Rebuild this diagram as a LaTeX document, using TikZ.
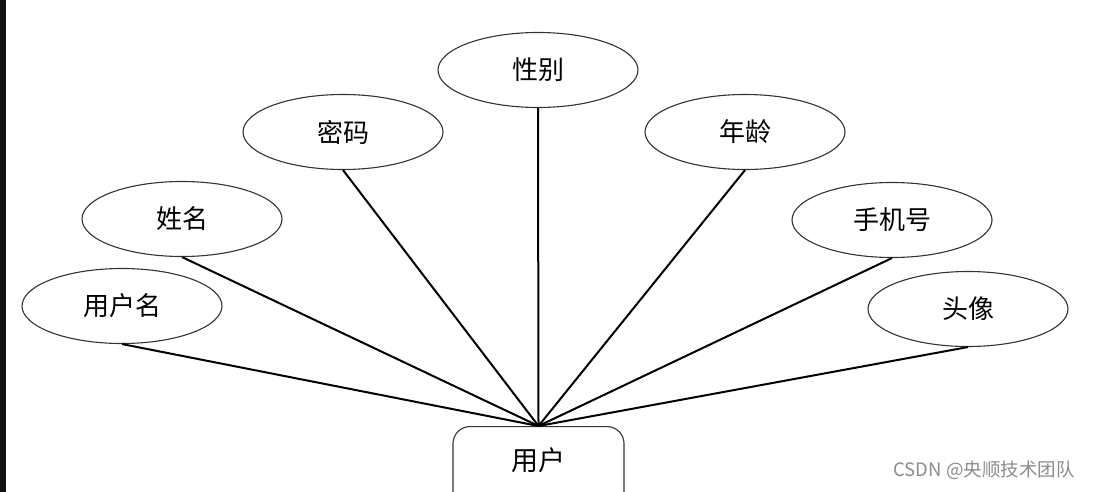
\documentclass[tikz,border=0pt]{standalone}
\usepackage{fontspec}
\newfontfamily\cjk{Noto Sans CJK SC}
\tikzset{
  attr/.style={draw=black!80, line width=1.1pt, ellipse, minimum width=200pt, minimum height=75pt, inner sep=0pt, font=\cjk\fontsize{26}{30}\selectfont},
  link/.style={line width=2pt, black}
}
\usetikzlibrary{shapes.geometric}
\begin{document}
\begin{tikzpicture}[x=1pt,y=-1pt]
\useasboundingbox (0,0) rectangle (1099,492);
\clip (0,0) rectangle (1099,492);
\fill[white] (0,0) rectangle (1099,492);
\fill[black!93] (0,0) rectangle (6,492);
\node[attr] (xb) at (538,70) {性别};
\node[attr] (mm) at (343,132) {密码};
\node[attr] (nl) at (745,132) {年龄};
\node[attr] (xm) at (182,219) {姓名};
\node[attr] (sj) at (892,220) {手机号};
\node[attr] (yhm) at (122,306) {用户名};
\node[attr] (tx) at (968,309) {头像};
\node[draw=black!80, line width=1.1pt, rounded corners=17pt, minimum width=171pt, minimum height=100pt, anchor=north, inner sep=0pt] (yh) at (538.5,426) {};
\node[font=\cjk\fontsize{27}{30}\selectfont] (yhl) at (538,460) {用户};
\foreach \n in {xb,mm,nl,xm,sj,yhm,tx}{\draw[link] (\n.south) -- (yh.north);}
\node[font=\cjk\fontsize{18.5}{22}\selectfont, text=black!45, anchor=west] (wm) at (890,470) {CSDN @央顺技术团队};
\end{tikzpicture}
\end{document}
